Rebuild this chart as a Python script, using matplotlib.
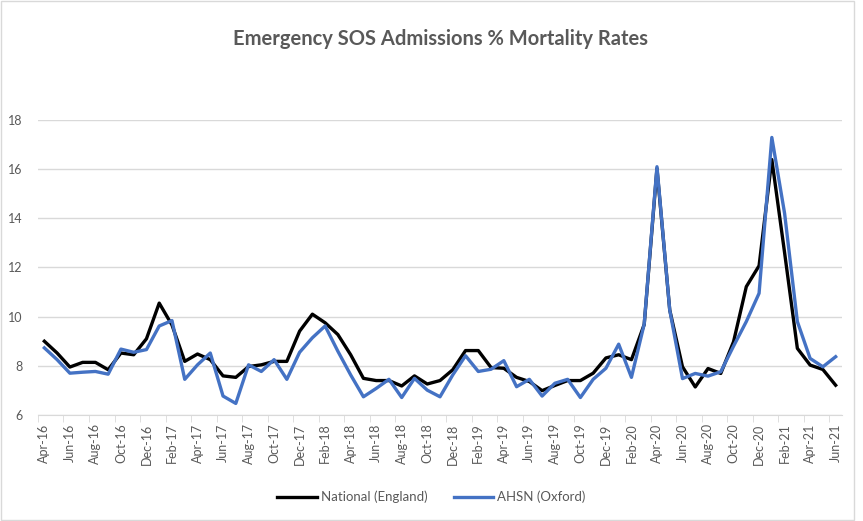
import matplotlib.pyplot as plt
from matplotlib.patches import Rectangle

# months Apr-16 .. Jun-21
months = ['Apr-16', 'May-16', 'Jun-16', 'Jul-16', 'Aug-16', 'Sep-16', 'Oct-16', 'Nov-16', 'Dec-16',
          'Jan-17', 'Feb-17', 'Mar-17', 'Apr-17', 'May-17', 'Jun-17', 'Jul-17', 'Aug-17', 'Sep-17',
          'Oct-17', 'Nov-17', 'Dec-17', 'Jan-18', 'Feb-18', 'Mar-18', 'Apr-18', 'May-18', 'Jun-18',
          'Jul-18', 'Aug-18', 'Sep-18', 'Oct-18', 'Nov-18', 'Dec-18', 'Jan-19', 'Feb-19', 'Mar-19',
          'Apr-19', 'May-19', 'Jun-19', 'Jul-19', 'Aug-19', 'Sep-19', 'Oct-19', 'Nov-19', 'Dec-19',
          'Jan-20', 'Feb-20', 'Mar-20', 'Apr-20', 'May-20', 'Jun-20', 'Jul-20', 'Aug-20', 'Sep-20',
          'Oct-20', 'Nov-20', 'Dec-20', 'Jan-21', 'Feb-21', 'Mar-21', 'Apr-21', 'May-21', 'Jun-21']

national = [9.0, 8.52, 7.95, 8.14, 8.14, 7.84, 8.52, 8.45, 9.1,
            10.55, 9.66, 8.18, 8.48, 8.25, 7.59, 7.53, 7.97, 8.04,
            8.18, 8.18, 9.41, 10.1, 9.75, 9.27, 8.45, 7.49, 7.4,
            7.4, 7.18, 7.59, 7.26, 7.4, 7.84, 8.62, 8.62, 7.93,
            7.9, 7.53, 7.36, 6.99, 7.2, 7.4, 7.4, 7.7, 8.32,
            8.45, 8.25, 9.68, 16.03, 10.27, 7.96, 7.14, 7.89, 7.69,
            8.98, 11.22, 12.07, 16.39, 12.6, 8.71, 8.03, 7.85, 7.21]

oxford = [8.73, 8.25, 7.7, 7.74, 7.77, 7.66, 8.68, 8.55, 8.66,
          9.62, 9.84, 7.45, 8.04, 8.52, 6.77, 6.47, 8.04, 7.77,
          8.25, 7.45, 8.55, 9.14, 9.62, 8.59, 7.63, 6.74, 7.08,
          7.45, 6.71, 7.49, 7.01, 6.74, 7.63, 8.41, 7.77, 7.86,
          8.21, 7.15, 7.45, 6.77, 7.29, 7.45, 6.71, 7.45, 7.9,
          8.88, 7.53, 9.7, 16.1, 10.27, 7.48, 7.69, 7.58, 7.76,
          8.8, 9.8, 10.95, 17.29, 14.2, 9.8, 8.3, 7.96, 8.37]

grey = '#595959'
plt.rcParams['font.family'] = ['Lato', 'DejaVu Sans']

fig = plt.figure(figsize=(8.63, 5.21), dpi=100)
ax = fig.add_axes([0.044, 0.2035, 0.9317, 0.5662])

x = list(range(len(months)))
ax.plot(x, national, color='black', linewidth=2.4, label='National (England)', zorder=3)
ax.plot(x, oxford, color='#4472C4', linewidth=2.4, label='AHSN (Oxford)', zorder=4)

ax.set_xlim(-0.5, len(months) - 0.5)
ax.set_ylim(6, 18)
ax.set_yticks([6, 8, 10, 12, 14, 16, 18])
ax.grid(axis='y', color='#d9d9d9', linewidth=1)
ax.set_axisbelow(True)

ax.set_xticks(x[::2])
ax.set_xticklabels(months[::2], rotation=90, fontsize=9, color=grey)
ax.set_xticks([i - 0.5 for i in range(0, len(months) + 1, 2)], minor=True)
ax.tick_params(axis='x', which='major', length=0, pad=6)
ax.tick_params(axis='x', which='minor', length=5, color='#d9d9d9', direction='out')
ax.tick_params(axis='y', length=0, labelsize=9, labelcolor=grey, pad=11)

for side in ['top', 'right', 'left']:
    ax.spines[side].set_visible(False)
ax.spines['bottom'].set_color('#d9d9d9')

fig.text(0.51, 0.925, 'Emergency SOS Admissions % Mortality Rates', ha='center', va='center',
         fontsize=14.5, fontweight='bold', color=grey)

fig.legend(loc='center', bbox_to_anchor=(0.5, 0.046), ncol=2, frameon=False,
           fontsize=9.5, labelcolor=grey, handlelength=3, columnspacing=2, handletextpad=0.3)

fig.patches.append(Rectangle((0.001, 0.001), 0.989, 0.997, transform=fig.transFigure,
                             fill=False, edgecolor='#d9d9d9', linewidth=1))

fig.savefig('out.png', dpi=100)
